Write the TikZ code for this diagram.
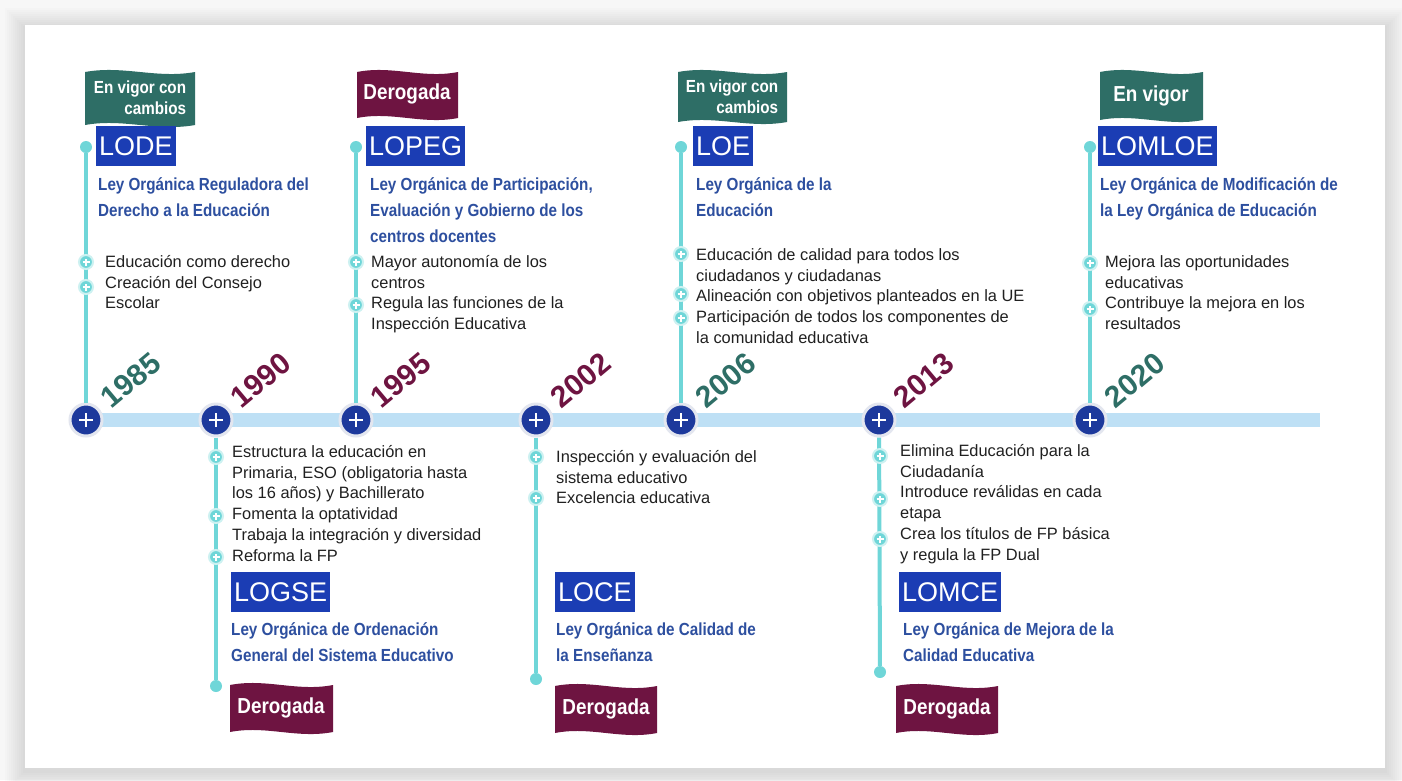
\documentclass[tikz,border=0pt]{standalone}
\usepackage{fontspec}
\setmainfont{Liberation Sans}
\newfontfamily\condfont[FakeStretch=0.87]{Liberation Sans}
\usepackage{tikz}
\usetikzlibrary{positioning}
\usepackage{xcolor}
\definecolor{tlbar}{HTML}{BEE0F5}
\definecolor{tlball}{HTML}{1D399C}
\definecolor{tlring}{HTML}{E3E6EF}
\definecolor{tlstem}{HTML}{6FD6D8}
\definecolor{acrblue}{HTML}{1B3DB4}
\definecolor{lawblue}{HTML}{2D4F9F}
\definecolor{fteal}{HTML}{2E6E66}
\definecolor{fmaroon}{HTML}{6E1441}
\definecolor{itemtext}{HTML}{202020}
% struts fixing the first baseline of the text blocks
\newcommand{\istrut}{\rule{0pt}{16pt}}
\newcommand{\tstrut}{\rule{0pt}{19pt}}
% waving flag: x, y (top left), width, height, colour
\newcommand{\wavyflag}[5]{%
  \fill[#5] (#1,#2) .. controls (#1+0.35*#3,#2-7) and (#1+0.65*#3,#2+7) .. (#1+#3,#2)
    -- (#1+#3,#2+#4) .. controls (#1+0.65*#3,#2+#4+7) and (#1+0.35*#3,#2+#4-7) .. (#1,#2+#4)
    -- cycle;}
\tikzset{
  ball/.style={circle, fill=tlball, draw=tlring, line width=3pt, minimum size=32pt, inner sep=0pt,
    path picture={\draw[white, line width=2pt]
      ([xshift=-7pt]path picture bounding box.center) -- ([xshift=7pt]path picture bounding box.center)
      ([yshift=-7pt]path picture bounding box.center) -- ([yshift=7pt]path picture bounding box.center);}},
  dot/.style={circle, fill=tlstem, minimum size=12pt, inner sep=0pt},
  bullet/.style={circle, fill=tlstem, draw=tlstem!35, line width=2pt, minimum size=14pt, inner sep=0pt,
    path picture={\draw[white, line width=1.1pt]
      ([xshift=-3.5pt]path picture bounding box.center) -- ([xshift=3.5pt]path picture bounding box.center)
      ([yshift=-3.5pt]path picture bounding box.center) -- ([yshift=3.5pt]path picture bounding box.center);}},
  stem/.style={tlstem, line width=4pt},
  axisbar/.style={tlbar, line width=14pt},
  acronym/.style={fill=acrblue, text=white, anchor=north west, inner xsep=3pt, inner ysep=0pt,
    minimum height=40pt, font=\fontsize{27}{27}\selectfont},
  lawname/.style={text=lawblue, anchor=north west, align=left, inner sep=0pt,
    font=\condfont\bfseries\fontsize{17.5}{26}\selectfont},
  items/.style={text=itemtext, anchor=north west, align=left, inner sep=0pt,
    font=\fontsize{16.4}{20.8}\selectfont},
  flagtext/.style={text=white, align=right, inner sep=0pt,
    font=\condfont\bfseries\fontsize{21.7}{21}\selectfont},
  yearlabel/.style={anchor=south west, rotate=40, inner sep=0pt,
    font=\bfseries\fontsize{30}{30}\selectfont},
}

\begin{document}
\begin{tikzpicture}[x=1pt, y=-1pt]
% ---- page and card ------------------------------------------------
\useasboundingbox (0,0) rectangle (1402,780);
\fill[black!3] (0,0) rectangle (1402,780);
\foreach \s in {2,4,...,20}
  \fill[black, opacity=0.012] (25-\s,25-\s+3) rectangle (1385+\s,768+\s+3);
\fill[white] (25,25) rectangle (1385,768);
% ---- time axis ----------------------------------------------------
\coordinate (axis-start) at (86,420);
\coordinate (axis-end) at (1320,420);
\draw[axisbar] (axis-start) -- (axis-end);
\node[ball] (b1985) at (86,420) {};
\node[ball] (b1990) at (216,420) {};
\node[ball] (b1995) at (356,420) {};
\node[ball] (b2002) at (536,420) {};
\node[ball] (b2006) at (681,420) {};
\node[ball] (b2013) at (879,420) {};
\node[ball] (b2020) at (1090,420) {};
% year labels start just right of each ball
\coordinate (l1985) at ([shift={(26pt,10pt)}]b1985.center);
\coordinate (l1990) at ([shift={(26pt,10pt)}]b1990.center);
\coordinate (l1995) at ([shift={(26pt,10pt)}]b1995.center);
\coordinate (l2002) at ([shift={(26pt,10pt)}]b2002.center);
\coordinate (l2006) at ([shift={(26pt,10pt)}]b2006.center);
\coordinate (l2013) at ([shift={(26pt,10pt)}]b2013.center);
\coordinate (l2020) at ([shift={(26pt,10pt)}]b2020.center);
\node[yearlabel, text=fteal]   (y1985) at (l1985) {1985};
\node[yearlabel, text=fmaroon] (y1990) at (l1990) {1990};
\node[yearlabel, text=fmaroon] (y1995) at (l1995) {1995};
\node[yearlabel, text=fmaroon] (y2002) at (l2002) {2002};
\node[yearlabel, text=fteal]   (y2006) at (l2006) {2006};
\node[yearlabel, text=fmaroon] (y2013) at (l2013) {2013};
\node[yearlabel, text=fteal]   (y2020) at (l2020) {2020};
% ---- 1985: LODE ---------------------------------------------------
\wavyflag{85}{72}{110}{53}{fteal}
\node[flagtext, font=\condfont\bfseries\fontsize{17.5}{21}\selectfont] (f1985) at (140,98)
     {En vigor con\\cambios};
\node[acronym] (a1985) at (96,126) {LODE};
\node[lawname] (n1985) at (98,171) {\tstrut Ley Orgánica Reguladora del\\Derecho a la Educación};
\node[dot] (d1985) at (86,147) {};
\draw[stem] (d1985) -- (b1985);
\node[bullet] (p1985a) at (86,262) {};
\node[bullet] (p1985b) at (86,287) {};
\node[items] (i1985) at (105,251) {\istrut Educación como derecho\\Creación del Consejo\\Escolar};
% ---- 1990: LOGSE --------------------------------------------------
\node[dot] (d1990) at (216,686) {};
\draw[stem] (b1990) -- (d1990);
\node[bullet] (p1990a) at (216,457) {};
\node[bullet] (p1990b) at (216,516) {};
\node[bullet] (p1990c) at (216,557) {};
\node[items] (i1990) at (232,441) {\istrut Estructura la educación en\\Primaria, ESO (obligatoria hasta\\%
     los 16 años) y Bachillerato\\Fomenta la optatividad\\Trabaja la integración y diversidad\\Reforma la FP};
\node[acronym] (a1990) at (231,572) {LOGSE};
\node[lawname] (n1990) at (231,616) {\tstrut Ley Orgánica de Ordenación\\General del Sistema Educativo};
\wavyflag{230}{685}{103}{47}{fmaroon}
\node[flagtext] (f1990) at (281,708) {Derogada};
% ---- 1995: LOPEG --------------------------------------------------
\wavyflag{357}{72}{101}{46}{fmaroon}
\node[flagtext] (f1995) at (407,94) {Derogada};
\node[acronym] (a1995) at (366,126) {LOPEG};
\node[lawname] (n1995) at (370,171) {\tstrut Ley Orgánica de Participación,\\Evaluación y Gobierno de los\\centros docentes};
\node[dot] (d1995) at (356,147) {};
\draw[stem] (d1995) -- (b1995);
\node[bullet] (p1995a) at (356,262) {};
\node[bullet] (p1995b) at (356,305) {};
\node[items] (i1995) at (371,251) {\istrut Mayor autonomía de los\\centros\\Regula las funciones de la\\Inspección Educativa};
% ---- 2002: LOCE ---------------------------------------------------
\node[dot] (d2002) at (536,679) {};
\draw[stem] (b2002) -- (d2002);
\node[bullet] (p2002a) at (536,457) {};
\node[bullet] (p2002b) at (536,498) {};
\node[items] (i2002) at (556,446) {\istrut Inspección y evaluación del\\sistema educativo\\Excelencia educativa};
\node[acronym] (a2002) at (555,572) {LOCE};
\node[lawname] (n2002) at (556,616) {\tstrut Ley Orgánica de Calidad de\\la Enseñanza};
\wavyflag{555}{686}{102}{47}{fmaroon}
\node[flagtext] (f2002) at (606,709) {Derogada};
% ---- 2006: LOE ----------------------------------------------------
\wavyflag{678}{72}{109}{50}{fteal}
\node[flagtext, font=\condfont\bfseries\fontsize{17.5}{21}\selectfont] (f2006) at (732,97)
     {En vigor con\\cambios};
\node[acronym] (a2006) at (693,126) {LOE};
\node[lawname] (n2006) at (696,171) {\tstrut Ley Orgánica de la\\Educación};
\node[dot] (d2006) at (681,147) {};
\draw[stem] (d2006) -- (b2006);
\node[bullet] (p2006a) at (681,254) {};
\node[bullet] (p2006b) at (681,294) {};
\node[bullet] (p2006c) at (681,318) {};
\node[items] (i2006) at (696,244) {\istrut Educación de calidad para todos los\\ciudadanos y ciudadanas\\%
     Alineación con objetivos planteados en la UE\\Participación de todos los componentes de\\la comunidad educativa};
% ---- 2013: LOMCE --------------------------------------------------
\node[dot] (d2013) at (880,672) {};
\draw[stem] (b2013) -- (d2013);
\node[bullet] (p2013a) at (880,456) {};
\node[bullet] (p2013b) at (880,499) {};
\node[bullet] (p2013c) at (880,539) {};
\node[items] (i2013) at (900,440) {\istrut Elimina Educación para la\\Ciudadanía\\Introduce reválidas en cada\\%
     etapa\\Crea los títulos de FP básica\\y regula la FP Dual};
\node[acronym] (a2013) at (899,572) {LOMCE};
\node[lawname] (n2013) at (903,616) {\tstrut Ley Orgánica de Mejora de la\\Calidad Educativa};
\wavyflag{896}{686}{102}{47}{fmaroon}
\node[flagtext] (f2013) at (947,709) {Derogada};
% ---- 2020: LOMLOE -------------------------------------------------
\wavyflag{1100}{72}{103}{48}{fteal}
\node[flagtext] (f2020) at (1151,96) {En vigor};
\node[acronym] (a2020) at (1098,126) {LOMLOE};
\node[lawname] (n2020) at (1100,171) {\tstrut Ley Orgánica de Modificación de\\la Ley Orgánica de Educación};
\node[dot] (d2020) at (1090,147) {};
\draw[stem] (d2020) -- (b2020);
\node[bullet] (p2020a) at (1090,263) {};
\node[bullet] (p2020b) at (1090,309) {};
\node[items] (i2020) at (1105,251) {\istrut Mejora las oportunidades\\educativas\\Contribuye la mejora en los\\resultados};
\end{tikzpicture}
\end{document}
